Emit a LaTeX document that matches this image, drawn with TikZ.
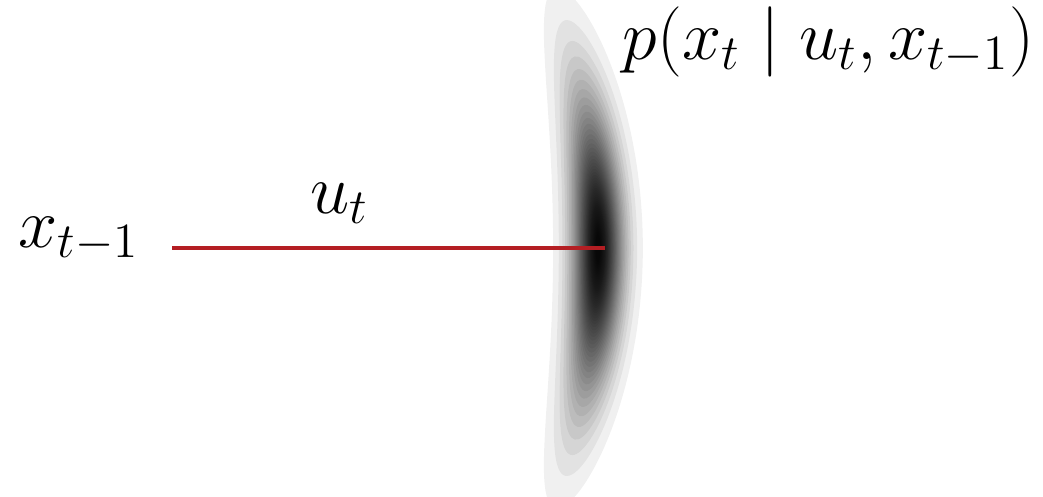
\RequirePackage{fix-cm}
\documentclass[tikz,border=0pt]{standalone}
\usepackage{amsmath}
\usetikzlibrary{positioning}
\definecolor{motionred}{RGB}{180,30,35}

\begin{document}
\begin{tikzpicture}[x=0.01cm, y=-0.01cm,
        lbl/.style={inner sep=0pt, font=\fontsize{20}{24}\selectfont},
        motion/.style={motionred, line width=1pt},
        blob/.style={fill=black, opacity=0.06}]
      \useasboundingbox (0,0) rectangle (1043,496);
      % banana shaped density, bent round the start pose
      \foreach \i in {1,...,57}{
        \pgfmathsetmacro\dens{(1-0.94^\i)/0.975}
        \pgfmathsetmacro\lvl{sqrt(-2*ln(\dens))}
        \pgfmathsetmacro\spread{19*\lvl}
        \pgfmathsetmacro\reach{112*\lvl/800*57.2958}
        \fill[blob] plot[domain=0:354, samples=60, smooth cycle]
          ({-202+(800+\spread*cos(\x))*cos(\reach*sin(\x))},
           {248+(800+\spread*cos(\x))*sin(\reach*sin(\x))});
      }
      \coordinate (start) at (172,248);
      \coordinate (mean) at (605,248);
      \node[lbl, anchor=base east] (xprev) at (140,247) {$x_{t-1}$};
      \node[lbl, anchor=base west] (ut) at (310,213) {$u_t$};
      \node[lbl, anchor=base west] (post) at (622,59) {$p(x_t \mid u_t, x_{t-1})$};
      \draw[motion] (start) -- (mean);
    \end{tikzpicture}
\end{document}
